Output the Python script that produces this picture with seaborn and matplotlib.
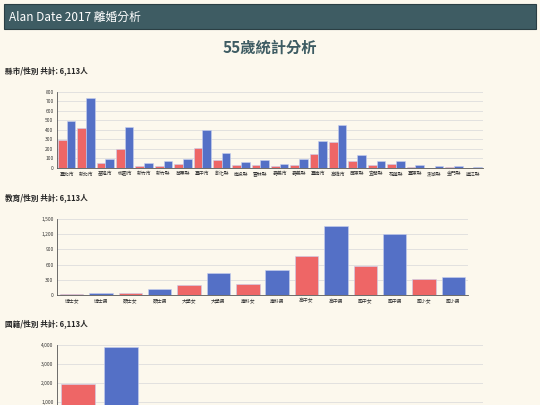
import pandas as pd
import seaborn as sns
import matplotlib.pyplot as plt
from matplotlib.ticker import FuncFormatter
from matplotlib.patches import Rectangle

# data
cities = ["臺北市", "新北市", "基隆市", "桃園市", "新竹市", "新竹縣", "苗栗縣", "臺中市", "彰化縣", "南投縣", "雲林縣",
          "嘉義市", "嘉義縣", "臺南市", "高雄市", "屏東縣", "宜蘭縣", "花蓮縣", "臺東縣", "澎湖縣", "金門縣", "連江縣"]
city_female = [290, 425, 55, 205, 25, 25, 40, 210, 85, 30, 30, 20, 35, 150, 275, 70, 30, 40, 15, 5, 10, 0]
city_male = [495, 740, 95, 430, 50, 75, 90, 405, 155, 60, 85, 45, 95, 285, 450, 140, 70, 70, 35, 20, 20, 15]

edu_labels = ["博士女", "博士男", "碩士女", "碩士男", "大學女", "大學男", "專科女", "專科男",
              "高中女", "高中男", "國中女", "國中男", "國小女", "國小男"]
edu_values = [10, 30, 45, 125, 200, 440, 225, 485, 775, 1360, 575, 1200, 315, 360]

nat_labels = ["本國女", "本國男", "大陸女", "大陸男", "港澳女", "港澳男", "東南亞女", "東南亞男", "其他女", "其他男"]
nat_values = [1950, 3900, 120, 10, 5, 5, 80, 8, 15, 20]

RED = "#ee6666"
BLUE = "#5470c6"
BG = "#fcf8ed"

sns.set_theme(style="whitegrid")
plt.rcParams['font.family'] = ['Noto Sans CJK TC', 'DejaVu Sans']

W, H = 540, 405
fig = plt.figure(figsize=(5.4, 4.05), dpi=100, facecolor=BG)

def box(x0, y_top, x1, y_bot):
    return [x0 / W, 1 - y_bot / H, (x1 - x0) / W, (y_bot - y_top) / H]

# header
fig.patches.append(Rectangle((4 / W, 1 - 29 / H), 532 / W, 25 / H, transform=fig.transFigure,
                             facecolor="#3e5c63", edgecolor="#2b3f44", lw=0.8))
fig.text(9 / W, 1 - 17 / H, "Alan Date 2017 離婚分析", color="white", fontsize=8.5, va="center")
fig.text(0.5, 1 - 48 / H, "55歲統計分析", color="#3e5c63", fontsize=11, fontweight="bold", ha="center", va="center")

def style(ax, ymax, step):
    ax.set_facecolor(BG)
    ax.set_ylim(0, ymax)
    ax.set_yticks(range(0, ymax + 1, step))
    ax.yaxis.set_major_formatter(FuncFormatter(lambda v, p: f"{int(v):,}"))
    ax.grid(axis="y", color="#dddddd", lw=0.6)
    ax.grid(axis="x", visible=False)
    for s in ["top", "right"]:
        ax.spines[s].set_visible(False)
    for s in ["left", "bottom"]:
        ax.spines[s].set_color("#555555")
        ax.spines[s].set_linewidth(0.6)
    ax.tick_params(axis="both", labelsize=3.5, length=1.5, pad=1, colors="#333333")
    ax.set_xlabel("")
    ax.set_ylabel("")
    if ax.get_legend():
        ax.get_legend().remove()

# chart 1: city / gender
fig.text(5 / W, 1 - 72 / H, "縣市/性別 共計: 6,113人", fontsize=5.5, fontweight="bold", va="center")
df1 = pd.DataFrame({"city": cities * 2, "gender": ["女"] * len(cities) + ["男"] * len(cities),
                    "count": city_female + city_male})
ax1 = fig.add_axes(box(57, 92, 483, 168))
sns.barplot(data=df1, x="city", y="count", hue="gender", palette=[RED, BLUE], ax=ax1, saturation=1,
            width=0.9, edgecolor="#c8d0f0", linewidth=0.4)
style(ax1, 800, 100)

# chart 2: education / gender
fig.text(5 / W, 1 - 199 / H, "教育/性別 共計: 6,113人", fontsize=5.5, fontweight="bold", va="center")
df2 = pd.DataFrame({"edu": edu_labels, "count": edu_values, "gender": [l[-1] for l in edu_labels]})
ax2 = fig.add_axes(box(57, 219, 468, 295))
sns.barplot(data=df2, x="edu", y="count", hue="gender", palette=[RED, BLUE], dodge=False, ax=ax2,
            saturation=1, width=0.8, edgecolor="#c8d0f0", linewidth=0.4)
style(ax2, 1500, 300)

# chart 3: nationality / gender (cut off by the frame)
fig.text(5 / W, 1 - 325 / H, "國籍/性別 共計: 6,113人", fontsize=5.5, fontweight="bold", va="center")
df3 = pd.DataFrame({"nat": nat_labels, "count": nat_values, "gender": [l[-1] for l in nat_labels]})
ax3 = fig.add_axes(box(57, 345, 483, 421))
sns.barplot(data=df3, x="nat", y="count", hue="gender", palette=[RED, BLUE], dodge=False, ax=ax3,
            saturation=1, width=0.8, edgecolor="#c8d0f0", linewidth=0.4)
style(ax3, 4000, 1000)
ax3.tick_params(axis="x", labelbottom=False)  # below the frame in the reference

fig.savefig("out.png", dpi=100, facecolor=BG)
